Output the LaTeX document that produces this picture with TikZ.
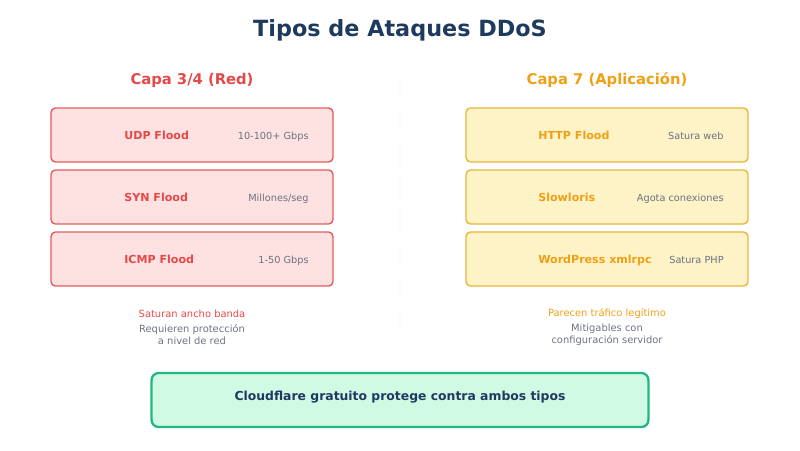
\documentclass[tikz,border=0pt]{standalone}
\usepackage{fontspec}
\setmainfont{DejaVu Sans}
\usepackage{xcolor}
\usepackage{tikz}
\usetikzlibrary{calc,positioning}
\definecolor{navy}{RGB}{30,58,95}
\definecolor{redtxt}{RGB}{229,72,72}
\definecolor{redfill}{RGB}{254,226,226}
\definecolor{redline}{RGB}{226,92,92}
\definecolor{orgtxt}{RGB}{240,160,20}
\definecolor{orgfill}{RGB}{254,243,199}
\definecolor{orgline}{RGB}{234,182,60}
\definecolor{grnfill}{RGB}{209,250,229}
\definecolor{grnline}{RGB}{30,185,130}
\definecolor{greytxt}{RGB}{107,114,128}

\begin{document}
\begin{tikzpicture}[x=0.02cm, y=-0.02cm,
      atkbox/.style={rounded corners=2.5pt, line width=0.8pt, minimum width=5.64cm, minimum height=1.08cm},
      atkname/.style={anchor=mid west, font=\fontsize{6.3}{8}\selectfont\bfseries, inner sep=0pt},
      atkval/.style={anchor=mid east, font=\fontsize{5.55}{7}\selectfont, text=greytxt, inner sep=0pt},
      notetext/.style={align=center, font=\fontsize{5.65}{6.9}\selectfont, inner sep=0pt}]
    \useasboundingbox (0,0) rectangle (800,450);
    \node[font=\fontsize{12.7}{14}\selectfont\bfseries, text=navy] (title) at (400,30) {Tipos de Ataques DDoS};
    % left side
    \node[font=\fontsize{8.4}{10}\selectfont\bfseries, text=redtxt] (netHead) at (192,80) {Capa 3/4 (Red)};
    \node[atkbox, draw=redline, fill=redfill] (udp) at (192,135) {};
    \node[atkbox, draw=redline, fill=redfill] (syn) at (192,197) {};
    \node[atkbox, draw=redline, fill=redfill] (icmp) at (192,259) {};
    \node[atkname, text=redtxt] (udpName) at (124,135) {UDP Flood};
    \node[atkname, text=redtxt] (synName) at (124,197) {SYN Flood};
    \node[atkname, text=redtxt] (icmpName) at (124,259) {ICMP Flood};
    \node[atkval] (udpVal) at (309,135) {10-100+ Gbps};
    \node[atkval] (synVal) at (309,197) {Millones/seg};
    \node[atkval] (icmpVal) at (309,259) {1-50 Gbps};
    \node[notetext, text=redtxt] (netNote) at (192,314) {Saturan ancho banda};
    \node[notetext, text=greytxt] (netFix) at (192,335) {Requieren protección\\a nivel de red};
    % divider
    \coordinate (divTop) at (400,80);
    \coordinate (divBot) at (400,335);
    \draw[black!2, dashed, line width=1pt] (divTop) -- (divBot);
    % right side
    \node[font=\fontsize{8.4}{10}\selectfont\bfseries, text=orgtxt] (appHead) at (607,80) {Capa 7 (Aplicación)};
    \node[atkbox, draw=orgline, fill=orgfill] (http) at (607,135) {};
    \node[atkbox, draw=orgline, fill=orgfill] (slow) at (607,197) {};
    \node[atkbox, draw=orgline, fill=orgfill] (wp) at (607,259) {};
    \node[atkname, text=orgtxt] (httpName) at (538,135) {HTTP Flood};
    \node[atkname, text=orgtxt] (slowName) at (538,197) {Slowloris};
    \node[atkname, text=orgtxt] (wpName) at (538,259) {WordPress xmlrpc};
    \node[atkval] (httpVal) at (724,135) {Satura web};
    \node[atkval] (slowVal) at (724,197) {Agota conexiones};
    \node[atkval] (wpVal) at (724,259) {Satura PHP};
    \node[notetext, text=orgtxt] (appNote) at (607,314) {Parecen tráfico legítimo};
    \node[notetext, text=greytxt] (appFix) at (607,335) {Mitigables con\\configuración servidor};
    % bottom
    \node[rounded corners=4pt, line width=1.3pt, draw=grnline, fill=grnfill, minimum width=9.94cm, minimum height=1.08cm] (cf) at (400,400) {};
    \node[anchor=mid, font=\fontsize{7.05}{9}\selectfont\bfseries, text=navy] (cfLabel) at (400,396) {Cloudflare gratuito protege contra ambos tipos};
  \end{tikzpicture}
\end{document}
